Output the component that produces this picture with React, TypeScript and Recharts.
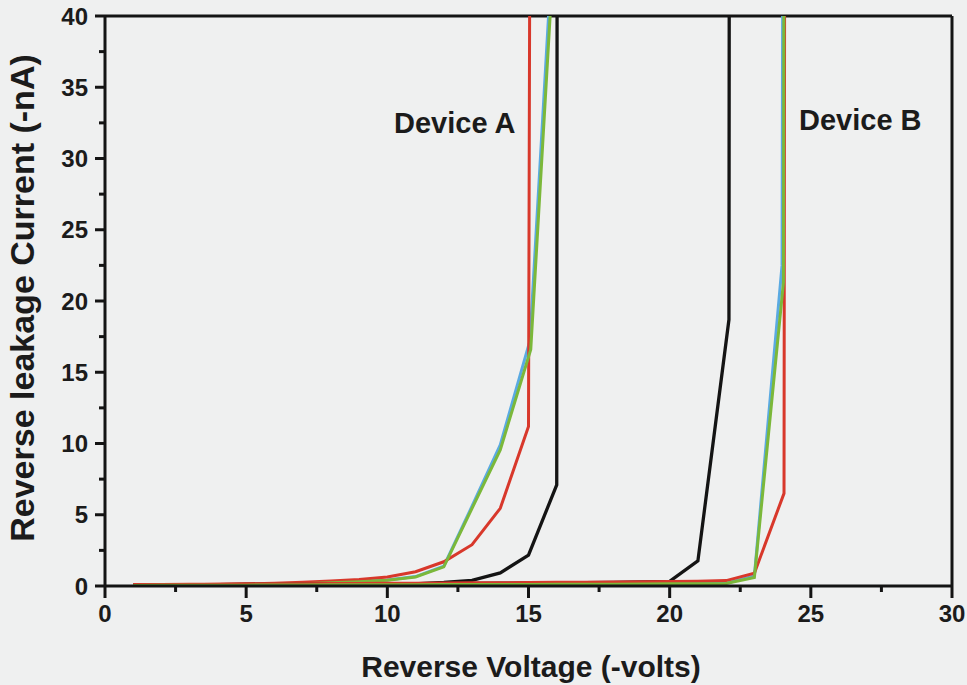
import React from 'react';
import { LineChart, Line, XAxis, YAxis, ReferenceLine } from 'recharts';

// Reverse I-V sweeps, voltage in -volts, leakage current in -nA.
// Values beyond 40 nA are the breakdown points that run off the top of the plot.

// Device A
const devABlackV = [1, 2, 3, 4, 5, 6, 7, 8, 9, 10, 11, 12, 13, 14, 15, 16, 16.03];
const devABlackI = [0.02, 0.02, 0.03, 0.03, 0.04, 0.05, 0.05, 0.06, 0.08, 0.1, 0.15, 0.25, 0.4, 0.92, 2.16, 7.1, 90];

const devARedV = [1, 2, 3, 4, 5, 6, 7, 8, 9, 10, 11, 12, 13, 14, 15, 15.08];
const devARedI = [0.05, 0.07, 0.09, 0.12, 0.15, 0.2, 0.26, 0.35, 0.45, 0.63, 1.0, 1.7, 2.9, 5.45, 11.2, 70];

const devABlueV = [1, 2, 3, 4, 5, 6, 7, 8, 9, 10, 11, 12, 13, 14, 15.05, 16];
const devABlueI = [0.04, 0.05, 0.06, 0.08, 0.1, 0.13, 0.17, 0.23, 0.31, 0.42, 0.66, 1.4, 5.6, 9.9, 17.2, 50];

const devAGreenV = [1, 2, 3, 4, 5, 6, 7, 8, 9, 10, 11, 12, 13, 14, 15.08, 16];
const devAGreenI = [0.03, 0.04, 0.05, 0.07, 0.09, 0.12, 0.16, 0.22, 0.3, 0.4, 0.63, 1.34, 5.45, 9.55, 16.6, 48];

// Device B
const devBBlackV = [1, 2, 3, 4, 5, 6, 7, 8, 9, 10, 11, 12, 13, 14, 15, 16, 17, 18, 19, 20, 21, 22.1, 22.13];
const devBBlackI = [0.08, 0.09, 0.1, 0.1, 0.11, 0.12, 0.13, 0.14, 0.15, 0.16, 0.17, 0.18, 0.19, 0.2, 0.21, 0.22, 0.24, 0.26, 0.28, 0.32, 1.76, 18.7, 90];

const devBRedV = [1, 2, 3, 4, 5, 6, 7, 8, 9, 10, 11, 12, 13, 14, 15, 16, 17, 18, 19, 20, 21, 22, 23, 24.05, 24.1];
const devBRedI = [0.1, 0.11, 0.12, 0.13, 0.14, 0.15, 0.16, 0.17, 0.18, 0.19, 0.2, 0.21, 0.22, 0.23, 0.24, 0.26, 0.27, 0.28, 0.3, 0.31, 0.33, 0.38, 0.9, 6.5, 90];

const devBBlueV = [1, 2, 3, 4, 5, 6, 7, 8, 9, 10, 11, 12, 13, 14, 15, 16, 17, 18, 19, 20, 21, 22, 23, 23.98, 24.06];
const devBBlueI = [0.06, 0.06, 0.07, 0.07, 0.08, 0.08, 0.09, 0.09, 0.1, 0.1, 0.11, 0.11, 0.12, 0.12, 0.13, 0.13, 0.14, 0.15, 0.16, 0.17, 0.18, 0.2, 0.7, 22.5, 90];

const devBGreenV = [1, 2, 3, 4, 5, 6, 7, 8, 9, 10, 11, 12, 13, 14, 15, 16, 17, 18, 19, 20, 21, 22, 23, 24.03, 24.08];
const devBGreenI = [0.04, 0.05, 0.05, 0.06, 0.06, 0.07, 0.07, 0.08, 0.08, 0.09, 0.09, 0.1, 0.1, 0.11, 0.11, 0.12, 0.12, 0.13, 0.14, 0.15, 0.16, 0.18, 0.6, 21.3, 90];

// Axis ticks (majors are labelled, minors are short marks)
const xTicks = [0, 2.5, 5, 7.5, 10, 12.5, 15, 17.5, 20, 22.5, 25, 27.5, 30];
const yTicks = [0, 2.5, 5, 7.5, 10, 12.5, 15, 17.5, 20, 22.5, 25, 27.5, 30, 32.5, 35, 37.5, 40];

const xTitle = 'Reverse Voltage (-volts)';
const yTitle = 'Reverse leakage Current (-nA)';
const labelA = 'Device A';
const labelB = 'Device B';

const RED = '#d8382b';
const GREEN = '#7bb83a';
const BLUE = '#5aaae2';
const BLACK = '#141414';
const INK = '#1b1b1b';
const FONT = '"Liberation Sans", Arial, Helvetica, sans-serif';

const TICK_SIZE = 12;
const TICK_MARGIN = 7;
const MAJOR = 12;
const MINOR = 6;

const pts = (v: number[], i: number[]) => v.map((x, k) => ({ v: x, i: i[k] }));

const isMajor = (val: number) => Math.abs(val % 5) < 1e-9;

const XTick = (props: any) => {
  const { x, y, payload } = props;
  const axisY = y - TICK_SIZE - TICK_MARGIN;
  const major = isMajor(payload.value);
  return (
    <g>
      <line x1={x} x2={x} y1={axisY} y2={axisY + (major ? MAJOR : MINOR)} stroke={BLACK} strokeWidth={3} />
      {major && (
        <text x={x} y={y} dy="0.71em" textAnchor="middle" fontFamily={FONT} fontWeight="bold" fontSize={24} fill={INK}>
          {payload.value}
        </text>
      )}
    </g>
  );
};

const YTick = (props: any) => {
  const { x, y, payload } = props;
  const axisX = x + TICK_SIZE + TICK_MARGIN;
  const major = isMajor(payload.value);
  return (
    <g>
      <line x1={axisX} x2={axisX - (major ? 10 : MINOR)} y1={y} y2={y} stroke={BLACK} strokeWidth={3} />
      {major && (
        <text x={axisX - 10 - TICK_MARGIN} y={y} dy="0.36em" textAnchor="end" fontFamily={FONT} fontWeight="bold" fontSize={24} fill={INK}>
          {payload.value}
        </text>
      )}
    </g>
  );
};

const series = [
  { key: 'aBlack', data: pts(devABlackV, devABlackI), color: BLACK, w: 3.3 },
  { key: 'aBlue', data: pts(devABlueV, devABlueI), color: BLUE, w: 3 },
  { key: 'aRed', data: pts(devARedV, devARedI), color: RED, w: 3 },
  { key: 'aGreen', data: pts(devAGreenV, devAGreenI), color: GREEN, w: 3 },
  { key: 'bBlack', data: pts(devBBlackV, devBBlackI), color: BLACK, w: 3.3 },
  { key: 'bBlue', data: pts(devBBlueV, devBBlueI), color: BLUE, w: 3 },
  { key: 'bRed', data: pts(devBRedV, devBRedI), color: RED, w: 3 },
  { key: 'bGreen', data: pts(devBGreenV, devBGreenI), color: GREEN, w: 3 },
];

export default function App() {
  return (
    <div style={{ position: 'absolute', left: 0, top: 0, width: 967, height: 685, background: '#eff0f0' }}>
      <LineChart width={967} height={685} margin={{ top: 16, right: 15, bottom: 0, left: 0 }}>
        <XAxis
          type="number"
          dataKey="v"
          domain={[0, 30]}
          allowDataOverflow
          ticks={xTicks}
          interval={0}
          height={99}
          tickSize={TICK_SIZE}
          tickMargin={TICK_MARGIN}
          tickLine={false}
          tick={<XTick />}
          axisLine={{ stroke: BLACK, strokeWidth: 3 }}
        />
        <YAxis
          type="number"
          domain={[0, 40]}
          allowDataOverflow
          ticks={yTicks}
          interval={0}
          width={105}
          tickSize={TICK_SIZE}
          tickMargin={TICK_MARGIN}
          tickLine={false}
          tick={<YTick />}
          axisLine={{ stroke: BLACK, strokeWidth: 3 }}
        />
        <ReferenceLine y={40} stroke={BLACK} strokeWidth={3} />
        <ReferenceLine x={30} stroke={BLACK} strokeWidth={3} />
        {series.map((s) => (
          <Line
            key={s.key}
            data={s.data}
            dataKey="i"
            type="linear"
            stroke={s.color}
            strokeWidth={s.w}
            dot={false}
            activeDot={false}
            isAnimationActive={false}
          />
        ))}
        <text x={394} y={133} fontFamily={FONT} fontWeight="bold" fontSize={29} fill={INK}>{labelA}</text>
        <text x={799} y={130} fontFamily={FONT} fontWeight="bold" fontSize={29} fill={INK}>{labelB}</text>
        <text x={531} y={677} textAnchor="middle" fontFamily={FONT} fontWeight="bold" fontSize={30} fill={INK}>{xTitle}</text>
        <text
          x={34}
          y={298}
          textAnchor="middle"
          transform="rotate(-90 34 298)"
          fontFamily={FONT}
          fontWeight="bold"
          fontSize={34}
          fill={INK}
        >
          {yTitle}
        </text>
      </LineChart>
    </div>
  );
}
